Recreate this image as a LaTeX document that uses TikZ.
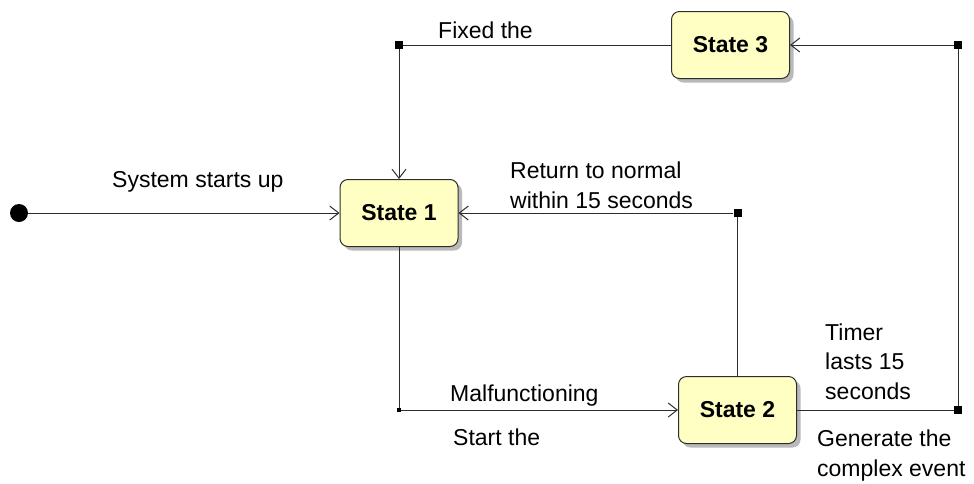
\documentclass[tikz,border=0pt]{standalone}
\usepackage{fontspec}
\setmainfont{Liberation Sans}
\usetikzlibrary{arrows.meta, shadows}
\definecolor{stateYellow}{RGB}{255, 255, 196}
\definecolor{lineGrey}{RGB}{45, 45, 45}
\newcommand{\lReturn}{Return to normal\\within 15 seconds}
\newcommand{\lTimer}{Timer\\lasts 15\\seconds}
\newcommand{\lGenerate}{Generate the\\complex event}

\begin{document}
\begin{tikzpicture} [
        x=1pt, y=-1pt,
        txt/.style={font=\fontsize{23}{29.5}\selectfont},
        state/.style={draw=lineGrey, line width=1pt, rounded corners=8pt, fill=stateYellow, minimum width=118pt, minimum height=67pt, font={\fontsize{23}{29.5}\selectfont\bfseries}, drop shadow={shadow xshift=4pt, shadow yshift=-4pt, fill=black!50, opacity=0.55}},
        initial/.style={circle, fill=black, inner sep=0pt, minimum size=18pt},
        junction/.style={fill=black, inner sep=0pt, minimum size=8pt},
        junction small/.style={junction, minimum size=4pt},
        transition/.style={draw=lineGrey, line width=1pt, -{Straight Barb[length=9pt, width=14pt]}},
        label text/.style={txt, inner sep=0pt, anchor=base west, align=left}
    ]

    \useasboundingbox (0,0) rectangle (974,483);

    \node[state] (s1) at (399,213) {State 1};
    \node[state] (s2) at (737.5,410) {State 2};
    \node[state] (s3) at (730.5,45) {State 3};
    \node[initial] (init) at (19,213) {};

    \node[junction] (j fixed) at (399,45) {};
    \node[junction] (j return) at (s2.north |- s1.east) {};
    \node[junction small] (j fault) at (s1.south |- s2.west) {};
    \node[junction] (j timer) at (958,410) {};
    \node[junction] (j complex) at (958,45) {};

    \draw[transition] (init) -- (s1);
    \draw[transition] (s3) -- (j fixed) -- (s1);
    \draw[transition] (s2) -- (j return) -- (s1);
    \draw[transition] (s1) -- (j fault) -- (s2);
    \draw[transition] (s2) -- (j timer) -- (j complex) -- (s3);

    % multi-line labels sit on the baseline of their last line
    \node[label text] at (112,187) {System starts up};
    \node[label text] at (438,38) {Fixed the};
    \node[label text] at (510,208) {\lReturn};
    \node[label text] at (450,401) {Malfunctioning};
    \node[label text] at (453,445) {Start the};
    \node[label text] at (825,399) {\lTimer};
    \node[label text] at (817,476) {\lGenerate};

\end{tikzpicture}
\end{document}
